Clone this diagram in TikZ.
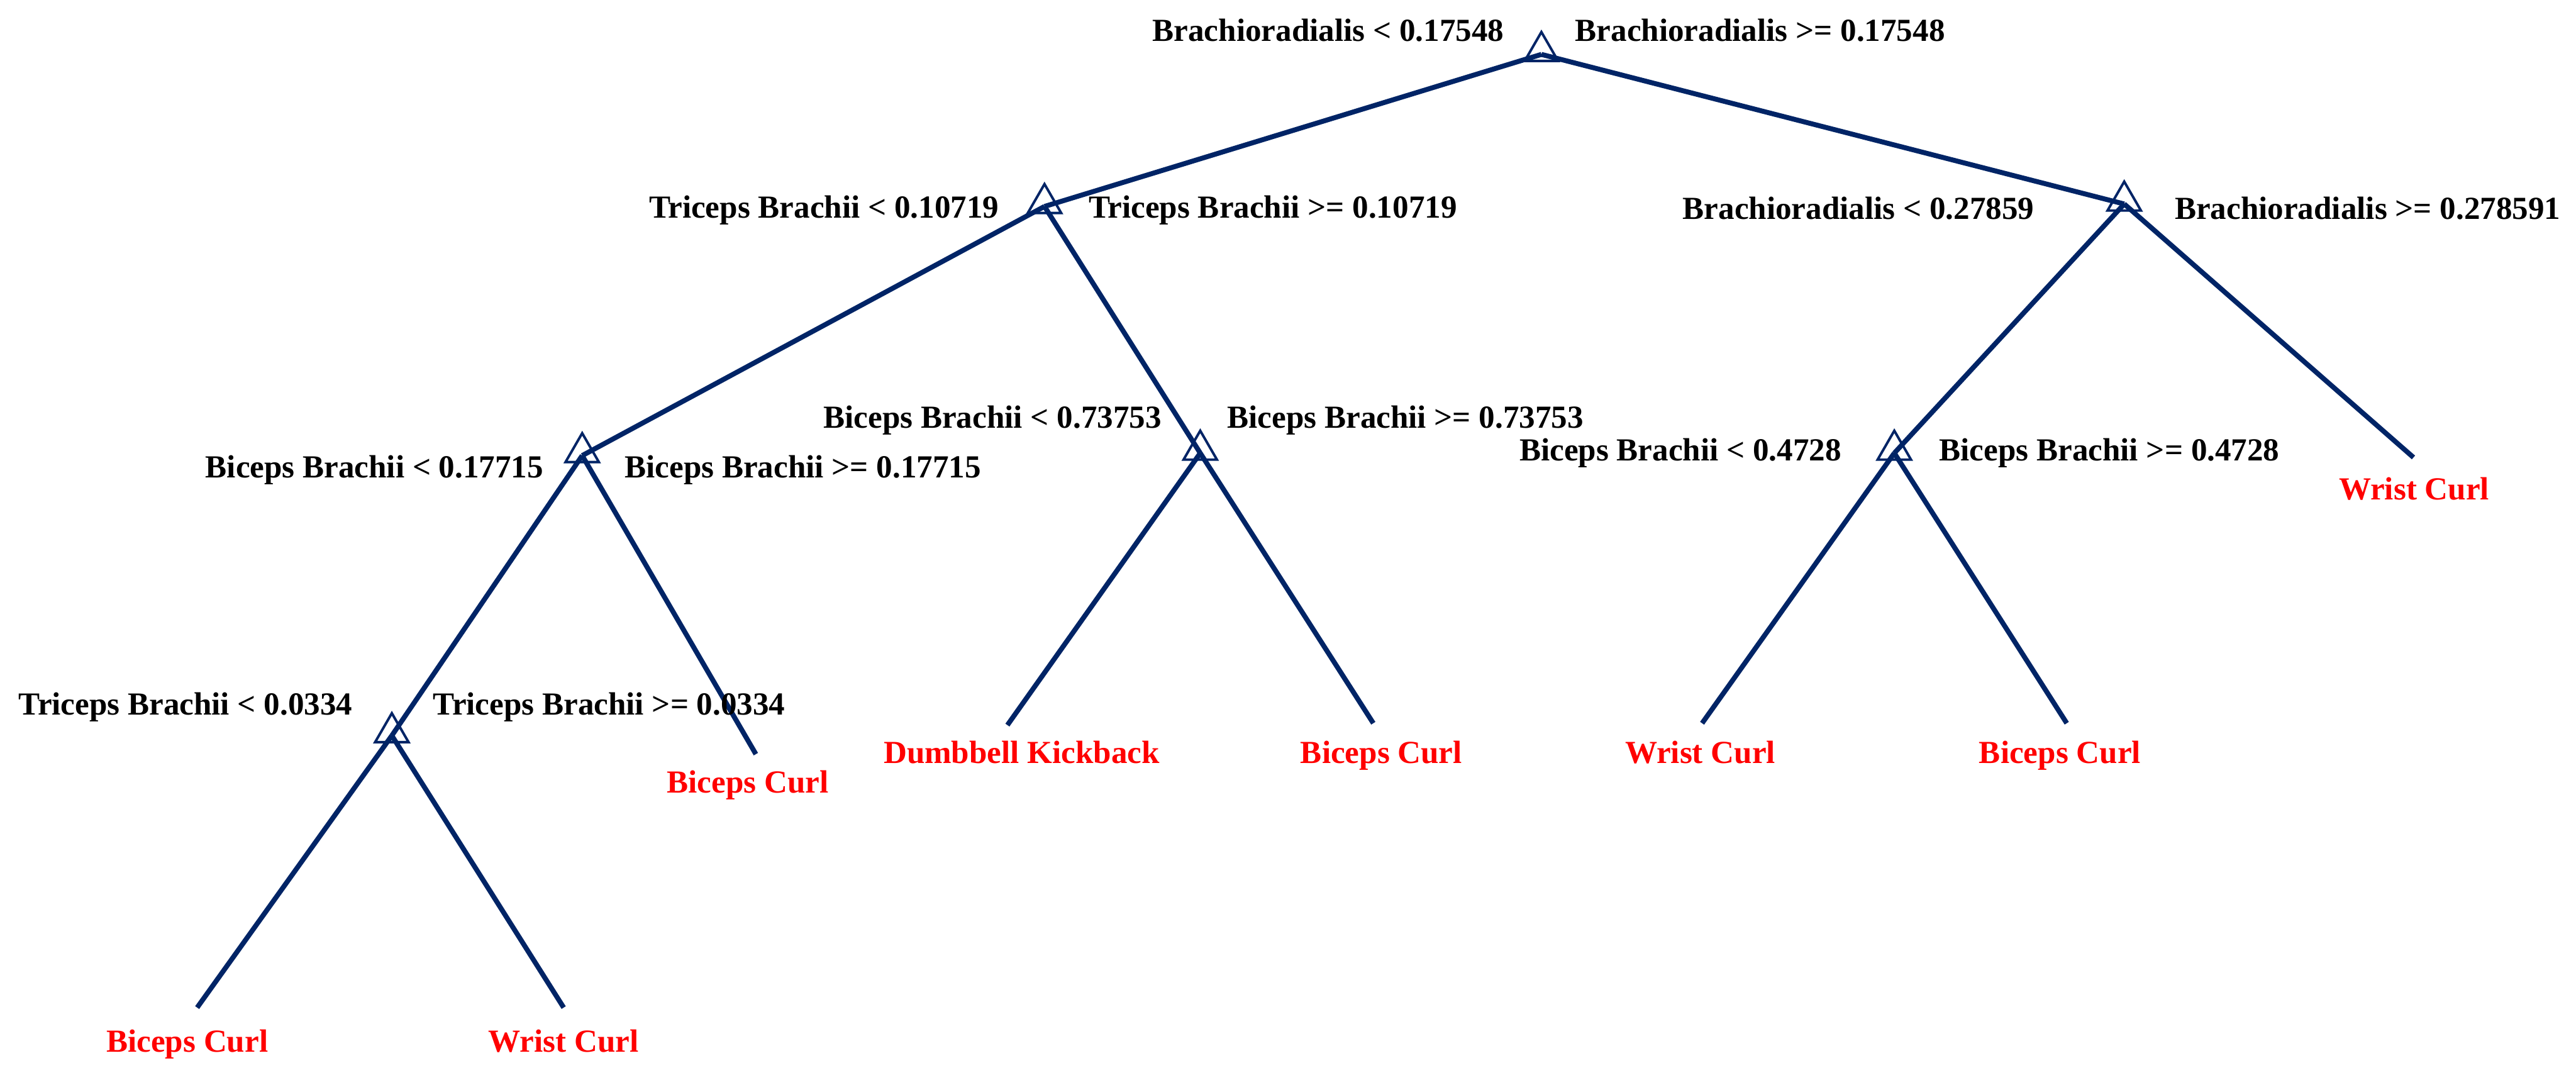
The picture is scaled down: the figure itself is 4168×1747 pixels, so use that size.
\documentclass[tikz,border=0pt]{standalone}
\usepackage{fontspec}
\setmainfont{Liberation Serif}
\usetikzlibrary{shapes.geometric}
\definecolor{treeblue}{RGB}{0,36,102}
\definecolor{leafred}{RGB}{255,0,0}
\begin{document}
\begin{tikzpicture}[x=0.25pt,y=-0.25pt,
  edge/.style={draw=treeblue,line width=2pt},
  splitmark/.style={regular polygon,regular polygon sides=3,draw=treeblue,line width=1pt,minimum size=15.6pt,inner sep=0pt,outer sep=0pt},
  cond/.style={font=\fontsize{13}{15}\selectfont\bfseries,text=black,inner sep=0pt},
  condL/.style={cond,anchor=base east},
  condR/.style={cond,anchor=base west},
  leaf/.style={font=\fontsize{13}{15}\selectfont\bfseries,text=leafred,inner sep=0pt,anchor=base}]
\useasboundingbox[fill=white] (0,0) rectangle (4168,1747);

% split points
\coordinate (R) at (2494,88);
\coordinate (A) at (1690,334);
\coordinate (B) at (3437,330);
\coordinate (C) at (942,737);
\coordinate (D) at (1942,733);
\coordinate (E) at (3065,733);
\coordinate (F) at (634,1190);

% leaf ends
\coordinate (l1) at (319,1630);
\coordinate (l2) at (912,1630);
\coordinate (l3) at (1223,1220);
\coordinate (l4) at (1630,1173);
\coordinate (l5) at (2222,1170);
\coordinate (l6) at (2754,1170);
\coordinate (l7) at (3344,1170);
\coordinate (l8) at (3905,740);

% edges
\draw[edge] (R) -- (A);
\draw[edge] (R) -- (B);
\draw[edge] (A) -- (C);
\draw[edge] (A) -- (D);
\draw[edge] (B) -- (E);
\draw[edge] (B) -- (l8);
\draw[edge] (C) -- (F);
\draw[edge] (C) -- (l3);
\draw[edge] (D) -- (l4);
\draw[edge] (D) -- (l5);
\draw[edge] (E) -- (l6);
\draw[edge] (E) -- (l7);
\draw[edge] (F) -- (l1);
\draw[edge] (F) -- (l2);

% split markers
\node[splitmark] (tR) at ([yshift=1.25pt]R) {};
\node[splitmark] (tA) at ([yshift=1.25pt]A) {};
\node[splitmark] (tB) at ([yshift=1.25pt]B) {};
\node[splitmark] (tC) at ([yshift=1.25pt]C) {};
\node[splitmark] (tD) at ([yshift=1.25pt]D) {};
\node[splitmark] (tE) at ([yshift=1.25pt]E) {};
\node[splitmark] (tF) at ([yshift=1.25pt]F) {};

% condition labels
\node[condL] (cRl) at (2434,67) {Brachioradialis < 0.17548};
\node[condR] (cRr) at (2548,67) {Brachioradialis >= 0.17548};
\node[condL] (cAl) at (1617,353) {Triceps Brachii < 0.10719};
\node[condR] (cAr) at (1761,353) {Triceps Brachii >= 0.10719};
\node[condL] (cBl) at (3292,355) {Brachioradialis < 0.27859};
\node[condR] (cBr) at (3518,355) {Brachioradialis >= 0.278591};
\node[condL] (cCl) at (880,773) {Biceps Brachii < 0.17715};
\node[condR] (cCr) at (1010,773) {Biceps Brachii >= 0.17715};
\node[condL] (cDl) at (1880,692) {Biceps Brachii < 0.73753};
\node[condR] (cDr) at (1985,692) {Biceps Brachii >= 0.73753};
\node[condL] (cEl) at (2980,745) {Biceps Brachii < 0.4728};
\node[condR] (cEr) at (3137,745) {Biceps Brachii >= 0.4728};
\node[condL] (cFl) at (571,1156) {Triceps Brachii < 0.0334};
\node[condR] (cFr) at (700,1156) {Triceps Brachii >= 0.0334};

% leaf labels
\node[leaf] (n1) at (303,1702) {Biceps Curl};
\node[leaf] (n2) at (912,1702) {Wrist Curl};
\node[leaf] (n3) at (1210,1283) {Biceps Curl};
\node[leaf] (n4) at (1653,1235) {Dumbbell Kickback};
\node[leaf] (n5) at (2235,1235) {Biceps Curl};
\node[leaf] (n6) at (2751,1235) {Wrist Curl};
\node[leaf] (n7) at (3333,1235) {Biceps Curl};
\node[leaf] (n8) at (3906,808) {Wrist Curl};
\end{tikzpicture}
\end{document}
